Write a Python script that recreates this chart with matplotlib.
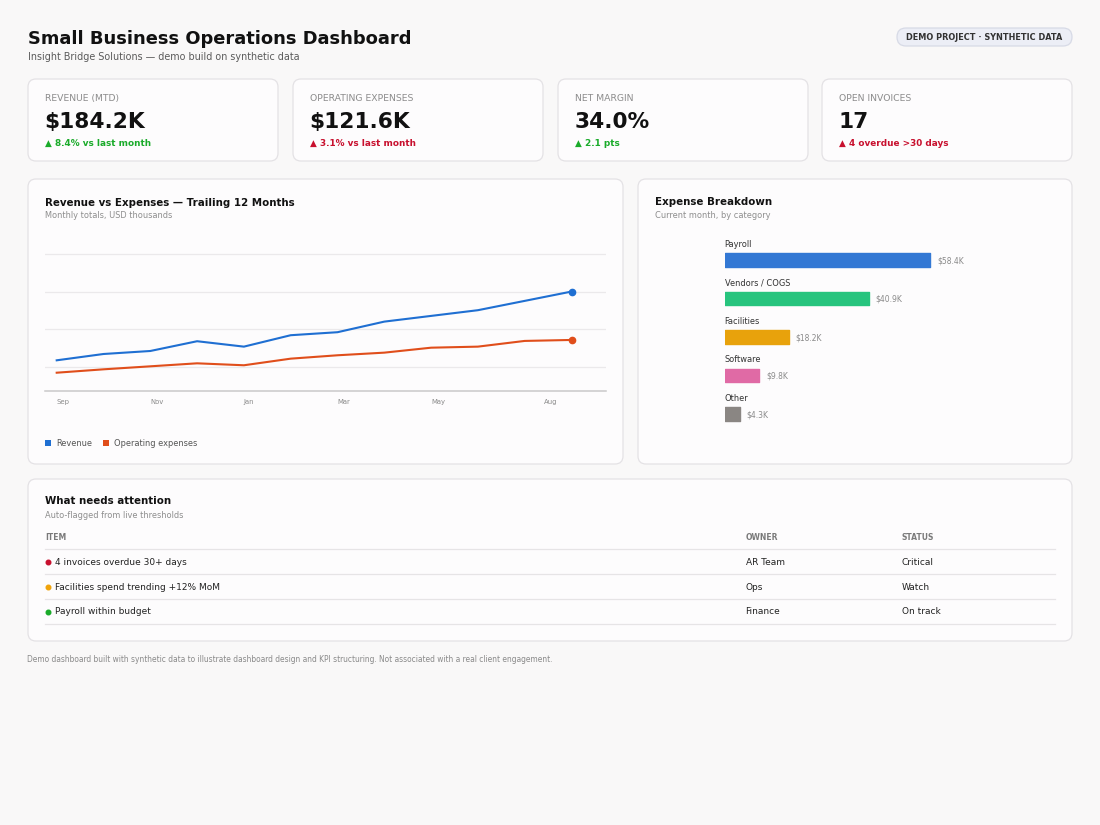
import matplotlib
matplotlib.use('Agg')
import matplotlib.pyplot as plt
from matplotlib.patches import FancyBboxPatch, Rectangle

# ---------------- data ----------------
months = ['Sep', 'Oct', 'Nov', 'Dec', 'Jan', 'Feb', 'Mar', 'Apr', 'May', 'Jun', 'Jul', 'Aug']
revenue = [58.5, 66.9, 70.9, 83.9, 76.7, 91.9, 95.9, 110.0, 117.6, 125.2, 137.6, 150.0]
expenses = [42.0, 46.5, 50.5, 54.5, 51.9, 60.7, 65.2, 68.7, 75.3, 76.7, 84.3, 85.6]
month_ticks = ['Sep', 'Nov', 'Jan', 'Mar', 'May', 'Aug']
grid_values = [50, 100, 150, 200]

categories = ['Payroll', 'Vendors / COGS', 'Facilities', 'Software', 'Other']
cat_values = [58.4, 40.9, 18.2, 9.8, 4.3]
cat_labels = ['$58.4K', '$40.9K', '$18.2K', '$9.8K', '$4.3K']

kpi_labels = ['REVENUE (MTD)', 'OPERATING EXPENSES', 'NET MARGIN', 'OPEN INVOICES']
kpi_values = ['$184.2K', '$121.6K', '34.0%', '17']
kpi_deltas = ['▲ 8.4% vs last month', '▲ 3.1% vs last month', '▲ 2.1 pts', '▲ 4 overdue >30 days']
kpi_good = [True, False, True, False]

items = ['4 invoices overdue 30+ days', 'Facilities spend trending +12% MoM', 'Payroll within budget']
owners = ['AR Team', 'Ops', 'Finance']
statuses = ['Critical', 'Watch', 'On track']
severity = ['critical', 'watch', 'ok']

# ---------------- styles ----------------
W, H = 1100, 825
PAGE = '#f9f8f8'
CARD = '#fdfcfd'
BORDER = '#e4e2e5'
GREEN = '#1aab2a'
RED = '#c8102e'
BLUE = '#1f6fd2'
ORANGE = '#e04e1b'
cat_colors = ['#3378d4', '#27c47e', '#e8a20c', '#e06aa5', '#8a8683']
sev_colors = {'critical': '#c8102e', 'watch': '#f0a30a', 'ok': '#1aab2a'}

plt.rcParams['font.family'] = ['DejaVu Sans']
fig = plt.figure(figsize=(W / 100, H / 100), dpi=100, facecolor=PAGE)
bg = fig.add_axes([0, 0, 1, 1], zorder=0)
bg.set_xlim(0, W)
bg.set_ylim(H, 0)
bg.axis('off')
renderer = fig.canvas.get_renderer()


def fit(s, target, weight='normal', base=10.0):
    t = bg.text(0, 0, s, fontsize=base, fontweight=weight)
    w = t.get_window_extent(renderer).width
    t.remove()
    return base * target / w


def card(x0, y0, x1, y1, r=8):
    bg.add_patch(FancyBboxPatch((x0, y0), x1 - x0, y1 - y0,
                                boxstyle=f'round,pad=0,rounding_size={r}',
                                fc=CARD, ec=BORDER, lw=0.9))


def txt(x, y, s, size, color='#222222', weight='normal', ha='left', va='baseline'):
    bg.text(x, y, s, fontsize=size, color=color, fontweight=weight, ha=ha, va=va)


# font sizes fitted to measured widths
S_TITLE = fit('Small Business Operations Dashboard', 383, 'bold')
S_SUB = fit('Insight Bridge Solutions — demo build on synthetic data', 270)
S_BADGE = fit('DEMO PROJECT · SYNTHETIC DATA', 157, 'bold')
S_KLAB = fit('OPERATING EXPENSES', 104)
S_KVAL = fit('$184.2K', 101, 'bold')
S_KDEL = fit('▲ 8.4% vs last month', 106, 'bold')
S_CTITLE = fit('Revenue vs Expenses — Trailing 12 Months', 250, 'bold')
S_CSUB = fit('Monthly totals, USD thousands', 127)
S_TICK = fit('Sep', 13)
S_LEG = fit('Operating expenses', 82.5)
S_CAT = fit('Vendors / COGS', 64.7)
S_VAL = fit('$58.4K', 26.7)
S_HEAD = fit('OWNER', 32.5, 'bold')
S_ROW = fit('Facilities spend trending +12% MoM', 163.6)
S_FOOT = fit('Demo dashboard built with synthetic data to illustrate dashboard design and KPI '
             'structuring. Not associated with a real client engagement.', 529)

# ---------------- header ----------------
txt(28, 44, 'Small Business Operations Dashboard', S_TITLE, '#111111', 'bold')
txt(28, 59.5, 'Insight Bridge Solutions — demo build on synthetic data', S_SUB, '#5a5a5a')
bg.add_patch(FancyBboxPatch((897, 28), 175, 18, boxstyle='round,pad=0,rounding_size=9',
                            fc='#eceef6', ec='#d7dae6', lw=0.9))
txt(984.5, 37.2, 'DEMO PROJECT · SYNTHETIC DATA', S_BADGE, '#333333', 'bold', ha='center', va='center')

# ---------------- KPI cards ----------------
kpi_left = [28, 293, 558, 822]
for i, x0 in enumerate(kpi_left):
    card(x0, 79, x0 + 250, 161)
    txt(x0 + 17, 101, kpi_labels[i], S_KLAB, '#8c8c8c')
    txt(x0 + 16.5, 128.3, kpi_values[i], S_KVAL, '#111111', 'bold')
    txt(x0 + 17, 145.7, kpi_deltas[i], S_KDEL, GREEN if kpi_good[i] else RED, 'bold')

# ---------------- line chart card ----------------
card(28, 179, 623, 464)
txt(45, 205.7, 'Revenue vs Expenses — Trailing 12 Months', S_CTITLE, '#111111', 'bold')
txt(45, 218.3, 'Monthly totals, USD thousands', S_CSUB, '#8e8e8e')

px_per_idx = 46.8
x0_idx_px = 56.7
ax_l, ax_r = 45, 606
y_lo, y_hi = 17.65, 205.0
px_per_unit = 0.7513
ax_bottom_px = 391
ax_h_px = (y_hi - y_lo) * px_per_unit
ax = fig.add_axes([ax_l / W, 1 - ax_bottom_px / H, (ax_r - ax_l) / W, ax_h_px / H], zorder=2)
ax.set_facecolor('none')
xi = list(range(len(months)))
ax.set_xlim((ax_l - x0_idx_px) / px_per_idx, (ax_r - x0_idx_px) / px_per_idx)
ax.set_ylim(y_lo, y_hi)
ax.set_yticks(grid_values)
ax.set_xticks([])
ax.tick_params(left=False, labelleft=False)
ax.grid(axis='y', color='#ebe9eb', lw=0.9)
for s in ['top', 'right', 'left']:
    ax.spines[s].set_visible(False)
ax.spines['bottom'].set_color('#cac8ca')
ax.spines['bottom'].set_linewidth(1.1)
ax.plot(xi, revenue, color=BLUE, lw=1.5, solid_joinstyle='round')
ax.plot(xi, expenses, color=ORANGE, lw=1.5, solid_joinstyle='round')
ax.plot(xi[-1], revenue[-1], 'o', color=BLUE, ms=4.5)
ax.plot(xi[-1], expenses[-1], 'o', color=ORANGE, ms=4.5)
for lab in month_ticks:
    idx = months.index(lab)
    dx = -28 if idx == len(months) - 1 else 0
    ax.annotate(lab, xy=(idx, 0), xycoords=('data', 'axes fraction'), xytext=(dx, -13),
                textcoords='offset pixels', ha='left', va='baseline', fontsize=S_TICK, color='#8a8a8a')

# legend
bg.add_patch(Rectangle((45, 439.5), 6.2, 6.2, fc=BLUE, ec='none'))
txt(55.8, 445.7, 'Revenue', S_LEG, '#555555')
bg.add_patch(Rectangle((102.6, 439.5), 6.2, 6.2, fc=ORANGE, ec='none'))
txt(113.8, 445.7, 'Operating expenses', S_LEG, '#555555')

# ---------------- expense breakdown card ----------------
card(638, 179, 1072, 464)
txt(654.7, 205.3, 'Expense Breakdown', S_CTITLE, '#111111', 'bold')
txt(654.7, 218.3, 'Current month, by category', S_CSUB, '#8e8e8e')

bar_px_per_k = 3.52
row_px = 38.45
bx_l = 724.7
bx_w = 330
bar_top_px = 260.0 - 0.5 * row_px
bx = fig.add_axes([bx_l / W, 1 - (bar_top_px + 5 * row_px) / H, bx_w / W, 5 * row_px / H], zorder=2)
bx.set_facecolor('none')
bx.set_xlim(0, bx_w / bar_px_per_k)
bx.set_ylim(len(categories) - 0.5, -0.5)
bx.axis('off')
yi = list(range(len(categories)))
bars = bx.barh(yi, cat_values, height=13.6 / row_px, color=cat_colors, edgecolor=cat_colors,
               linewidth=1.0)
for b in bars:
    b.set_joinstyle('round')
for i, (c, v, lab) in enumerate(zip(categories, cat_values, cat_labels)):
    bx.text(0, i - 13.0 / row_px, c, fontsize=S_CAT, color='#333333', ha='left', va='baseline')
    bx.annotate(lab, xy=(v, i), xytext=(7, 0), textcoords='offset pixels',
                ha='left', va='center_baseline', fontsize=S_VAL, color='#8a8a8a')

# ---------------- attention table ----------------
card(28, 479, 1072, 641)
txt(45, 504.3, 'What needs attention', S_CTITLE, '#111111', 'bold')
txt(45, 517.7, 'Auto-flagged from live thresholds', S_CSUB, '#8e8e8e')
col_x = [45, 745.5, 901.7]
for x, h in zip(col_x, ['ITEM', 'OWNER', 'STATUS']):
    txt(x, 540, h, S_HEAD, '#7a7a7a', 'bold')
for yl in [549.3, 574.3, 599.3, 623.7]:
    bg.plot([45, 1055], [yl, yl], color='#e6e4e6', lw=0.9)
row_base = [564.7, 589.5, 614.3]
for i in range(len(items)):
    yb = row_base[i]
    bg.plot([47.5], [yb - 2.7], 'o', color=sev_colors[severity[i]], ms=3.3)
    txt(55.2, yb, items[i], S_ROW, '#222222')
    txt(col_x[1], yb, owners[i], S_ROW, '#222222')
    txt(col_x[2], yb, statuses[i], S_ROW, '#222222')

# ---------------- footer ----------------
txt(27, 661.7, 'Demo dashboard built with synthetic data to illustrate dashboard design and KPI '
    'structuring. Not associated with a real client engagement.', S_FOOT, '#8a8a8a')

fig.savefig('out.png', dpi=100, facecolor=PAGE)
